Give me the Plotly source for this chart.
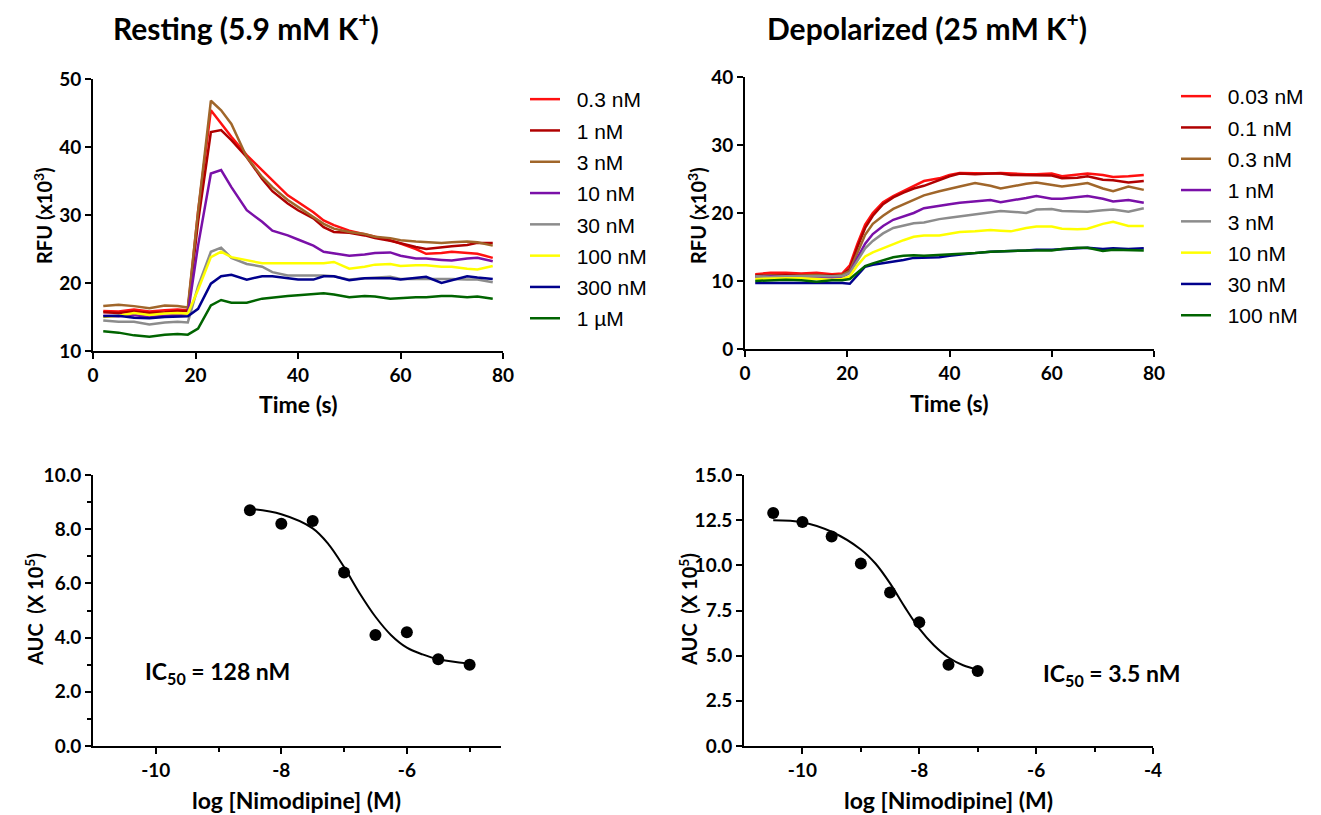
import plotly.graph_objs as go

# ---- top panels: fluorescence traces (RFU x10^3) ----
t_rest = [2, 5, 8, 11, 14, 16.5, 18.5, 20.5, 23, 25, 27, 30, 33, 35, 38, 40, 43, 45, 47,
          50, 53, 55, 58, 60, 63, 65, 68, 70, 73, 75, 78]
rest_names = ['0.3 nM', '1 nM', '3 nM', '10 nM', '30 nM', '100 nM', '300 nM', '1 µM']
rest_vals = [
    [15.9, 15.8, 16.1, 15.8, 16.0, 16.1, 16.0, 30.5, 45.4, 43.4, 41.5, 38.8, 36.6, 35.1, 32.9, 31.9,
     30.4, 29.2, 28.5, 27.7, 27.2, 26.8, 26.3, 25.8, 25.0, 24.3, 24.4, 24.6, 24.4, 24.3, 23.7],
    [15.7, 15.6, 15.8, 15.6, 15.7, 15.9, 15.9, 29.0, 42.2, 42.5, 41.0, 38.5, 35.3, 33.5, 31.7, 30.7,
     29.5, 28.2, 27.5, 27.4, 27.0, 26.6, 26.2, 25.8, 25.3, 25.0, 25.3, 25.4, 25.6, 25.9, 25.9],
    [16.6, 16.8, 16.6, 16.3, 16.7, 16.6, 16.4, 30.5, 46.8, 45.4, 43.4, 38.5, 35.6, 34.1, 32.2, 31.2,
     29.7, 28.7, 28.0, 27.5, 27.2, 26.8, 26.6, 26.3, 26.1, 26.0, 25.9, 26.0, 26.1, 26.0, 25.5],
    [15.2, 15.1, 15.3, 15.0, 15.2, 15.3, 15.4, 25.5, 36.1, 36.6, 34.1, 30.7, 29.0, 27.7, 27.0, 26.4,
     25.5, 24.6, 24.4, 24.0, 24.2, 24.4, 24.5, 24.0, 23.6, 23.6, 23.4, 23.3, 23.6, 23.7, 23.2],
    [14.5, 14.3, 14.3, 13.9, 14.2, 14.3, 14.2, 19.5, 24.6, 25.2, 23.7, 22.8, 22.4, 21.6, 21.1, 21.1,
     21.2, 21.1, 21.0, 20.5, 20.7, 20.8, 20.9, 20.6, 20.6, 20.6, 20.7, 20.6, 20.5, 20.5, 20.1],
    [15.0, 15.2, 15.6, 15.3, 15.5, 15.6, 15.5, 19.0, 23.8, 24.6, 23.8, 23.3, 22.9, 22.9, 22.9, 22.8,
     22.8, 22.9, 23.1, 22.1, 22.4, 22.7, 22.8, 22.5, 22.6, 22.6, 22.4, 22.4, 22.1, 22.0, 22.5],
    [15.1, 15.2, 14.9, 14.8, 15.0, 15.1, 15.1, 16.2, 19.9, 21.0, 21.2, 20.5, 21.0, 21.0, 20.7, 20.5,
     20.5, 21.0, 21.0, 20.4, 20.7, 20.7, 20.7, 20.5, 20.7, 20.9, 20.0, 20.4, 21.0, 20.8, 20.6],
    [12.9, 12.7, 12.3, 12.1, 12.4, 12.5, 12.4, 13.3, 16.7, 17.5, 17.1, 17.1, 17.7, 17.9, 18.1, 18.2,
     18.4, 18.5, 18.3, 17.9, 18.1, 18.0, 17.7, 17.8, 17.9, 17.9, 18.1, 18.1, 17.9, 18.0, 17.7],
]

t_dep = [2, 5, 8, 11, 14, 17, 19, 20.5, 22, 23.5, 25, 27, 29, 31, 33, 35, 38, 40, 42, 45, 48,
         50, 52, 55, 57, 60, 62, 65, 67, 70, 72, 75, 78]
dep_names = ['0.03 nM', '0.1 nM', '0.3 nM', '1 nM', '3 nM', '10 nM', '30 nM', '100 nM']
dep_vals = [
    [11.0, 11.2, 11.2, 11.1, 11.2, 11.0, 11.1, 12.3, 15.5, 18.3, 20.0, 21.6, 22.5, 23.2, 23.9, 24.7,
     25.1, 25.6, 25.9, 25.8, 25.8, 25.9, 25.8, 25.7, 25.7, 25.8, 25.4, 25.7, 25.8, 25.6, 25.3, 25.4, 25.6],
    [10.8, 10.9, 10.9, 10.8, 10.9, 10.8, 10.9, 11.8, 15.0, 17.8, 19.6, 21.3, 22.3, 23.0, 23.6, 24.0,
     24.9, 25.4, 25.8, 25.7, 25.8, 25.8, 25.6, 25.6, 25.6, 25.5, 25.1, 25.2, 25.4, 24.9, 24.8, 24.5, 24.7],
    [10.7, 10.8, 10.7, 10.8, 10.9, 10.7, 10.9, 11.5, 14.2, 16.8, 18.4, 19.6, 20.6, 21.3, 21.9, 22.6,
     23.2, 23.5, 23.9, 24.4, 24.0, 23.6, 23.9, 24.3, 24.5, 24.2, 23.9, 24.2, 24.4, 23.6, 23.2, 23.9, 23.4],
    [10.6, 10.7, 10.6, 10.7, 10.6, 10.5, 10.6, 11.2, 13.4, 15.5, 16.9, 18.1, 19.0, 19.5, 20.0, 20.7,
     21.1, 21.3, 21.5, 21.7, 21.9, 21.6, 21.8, 22.2, 22.5, 22.1, 22.1, 22.3, 22.5, 22.1, 21.7, 21.9, 21.5],
    [10.7, 10.6, 10.7, 10.7, 10.6, 10.6, 10.7, 11.2, 13.0, 14.8, 15.9, 17.0, 17.8, 18.2, 18.5, 18.6,
     19.1, 19.3, 19.5, 19.8, 20.2, 20.3, 20.2, 20.0, 20.5, 20.6, 20.3, 20.2, 20.2, 20.4, 20.5, 20.2, 20.7],
    [10.3, 10.4, 10.4, 10.4, 10.3, 10.2, 10.3, 10.7, 12.3, 13.6, 14.2, 14.8, 15.5, 16.0, 16.5, 16.7,
     16.7, 17.0, 17.2, 17.3, 17.5, 17.4, 17.3, 17.8, 18.0, 18.0, 17.7, 17.6, 17.7, 18.4, 18.7, 18.1, 18.1],
    [9.7, 9.7, 9.8, 9.8, 9.7, 9.8, 9.7, 9.6, 10.9, 12.1, 12.4, 12.6, 12.8, 13.1, 13.4, 13.4,
     13.5, 13.7, 13.9, 14.1, 14.3, 14.4, 14.4, 14.5, 14.6, 14.6, 14.7, 14.8, 14.9, 14.7, 14.8, 14.7, 14.8],
    [10.0, 10.1, 10.2, 10.1, 9.9, 10.1, 10.1, 10.3, 11.3, 12.2, 12.6, 13.1, 13.5, 13.7, 13.8, 13.7,
     13.8, 13.9, 14.0, 14.1, 14.3, 14.3, 14.4, 14.5, 14.5, 14.5, 14.7, 14.9, 14.9, 14.4, 14.6, 14.6, 14.5],
]

colores = ['#FF1010', '#B00000', '#A0662A', '#7A10A8', '#8C8C8C', '#FFFF00', '#00008C', '#006400']

# ---- bottom panels: AUC (x10^5) vs log dose ----
log_rest = [-8.5, -8, -7.5, -7, -6.5, -6, -5.5, -5]
auc_rest = [8.7, 8.2, 8.3, 6.4, 4.1, 4.2, 3.2, 3.0]
fit_rest_x = [-8.5, -8.0, -7.5, -7.25, -7.0, -6.75, -6.5, -6.25, -6.0, -5.75, -5.5, -5.0]
fit_rest_y = [8.75, 8.55, 8.03, 7.45, 6.6, 5.63, 4.77, 4.09, 3.63, 3.38, 3.2, 3.04]

log_dep = [-10.5, -10, -9.5, -9, -8.5, -8, -7.5, -7]
auc_dep = [12.9, 12.4, 11.6, 10.1, 8.5, 6.85, 4.5, 4.15]
fit_dep_x = [-10.5, -10.0, -9.5, -9.0, -8.75, -8.5, -8.25, -8.0, -7.75, -7.5, -7.25, -7.0]
fit_dep_y = [12.5, 12.39, 11.86, 10.88, 10.1, 9.0, 7.7, 6.5, 5.58, 4.9, 4.47, 4.23]

# the page puts the figure 8px in from the corner; work in screen pixels
OFF = 8
W, H = 1321 - OFF, 815 - OFF
def fx(px):
    return (px - OFF) / W
def fy(py):
    return 1 - (py - OFF) / H

fnt = 'Lato'
fig = go.Figure()

for i in range(8):
    fig.add_trace(go.Scatter(x=t_rest, y=rest_vals[i], name='\u00a0\u00a0' + rest_names[i], mode='lines',
                             line=dict(color=colores[i], width=2.5), xaxis='x', yaxis='y',
                             legend='legend', legendgroup='r' + str(i)))
for i in range(8):
    fig.add_trace(go.Scatter(x=t_dep, y=dep_vals[i], name='\u00a0\u00a0' + dep_names[i], mode='lines',
                             line=dict(color=colores[i], width=2.5), xaxis='x2', yaxis='y2',
                             legend='legend2', legendgroup='d' + str(i)))

fig.add_trace(go.Scatter(x=fit_rest_x, y=fit_rest_y, mode='lines', line=dict(color='black', width=2, shape='spline'),
                         xaxis='x3', yaxis='y3', showlegend=False))
fig.add_trace(go.Scatter(x=log_rest, y=auc_rest, mode='markers', marker=dict(color='black', size=12),
                         xaxis='x3', yaxis='y3', showlegend=False))
fig.add_trace(go.Scatter(x=fit_dep_x, y=fit_dep_y, mode='lines', line=dict(color='black', width=2, shape='spline'),
                         xaxis='x4', yaxis='y4', showlegend=False))
fig.add_trace(go.Scatter(x=log_dep, y=auc_dep, mode='markers', marker=dict(color='black', size=12),
                         xaxis='x4', yaxis='y4', showlegend=False))

eje = dict(showline=True, linecolor='black', linewidth=2, ticks='outside', ticklen=6, tickwidth=2,
           tickcolor='black', showgrid=False, zeroline=False, automargin=False,
           tickfont=dict(family=fnt, size=19, color='black', weight='bold'))
minor = dict(ticks='outside', ticklen=4, tickwidth=2, tickcolor='black', showgrid=False)

fig.update_layout(
    width=W, height=H, margin=dict(l=0, r=0, t=0, b=0, autoexpand=False),
    plot_bgcolor='white', paper_bgcolor='white',
    xaxis=dict(eje, domain=[fx(93), fx(503)], range=[0, 80], dtick=20, anchor='y'),
    yaxis=dict(eje, domain=[fy(351), fy(79)], range=[10, 50], dtick=10, anchor='x'),
    xaxis2=dict(eje, domain=[fx(745), fx(1154)], range=[0, 80], dtick=20, anchor='y2'),
    yaxis2=dict(eje, domain=[fy(349), fy(77)], range=[0, 40], dtick=10, anchor='x2'),
    xaxis3=dict(eje, domain=[fx(93), fx(501)], range=[-11, -4.5], tickvals=[-10, -8, -6],
                ticktext=['-10', '-8', '-6'], anchor='y3', minor=dict(minor, tickvals=[-9, -7, -5])),
    yaxis3=dict(eje, domain=[fy(746), fy(475)], range=[0, 10], dtick=2, tickformat='.1f', anchor='x3',
                minor=dict(minor, dtick=1)),
    xaxis4=dict(eje, domain=[fx(744), fx(1153)], range=[-11, -4], tickvals=[-10, -8, -6, -4],
                ticktext=['-10', '-8', '-6', '-4'], anchor='y4', minor=dict(minor, tickvals=[-9, -7, -5])),
    yaxis4=dict(eje, domain=[fy(746), fy(475)], range=[0, 15], dtick=2.5, tickformat='.1f', anchor='x4'),
    legend=dict(x=fx(525), y=fy(79), xanchor='left', yanchor='top', traceorder='grouped',
                tracegroupgap=1, font=dict(family='Liberation Sans', size=21, color='black'),
                bgcolor='rgba(0,0,0,0)', itemwidth=30),
    legend2=dict(x=fx(1176), y=fy(76), xanchor='left', yanchor='top', traceorder='grouped',
                 tracegroupgap=1, font=dict(family='Liberation Sans', size=21, color='black'),
                 bgcolor='rgba(0,0,0,0)', itemwidth=30),
)

def nota(texto, px, py, size, angle=0):
    fig.add_annotation(text=texto, x=fx(px), y=fy(py), xref='paper', yref='paper',
                       showarrow=False, textangle=angle, xanchor='center', yanchor='middle',
                       font=dict(family=fnt, size=size, color='black', weight='bold'))

nota('Resting (5.9 mM K<sup>+</sup>)', 246, 26, 30)
nota('Depolarized (25 mM K<sup>+</sup>)', 927, 26, 30)
nota('Time (s)', 298, 404, 23)
nota('Time (s)', 949, 403, 23)
nota('RFU (x10<sup>3</sup>)', 43, 216, 20, -90)
nota('RFU (x10<sup>3</sup>)', 697, 216, 20, -90)
nota('AUC  (X 10<sup>5</sup>)', 34, 610, 20, -90)
nota('AUC  (X 10<sup>5</sup>)', 688, 610, 20, -90)
nota('log [Nimodipine] (M)', 296, 800, 23)
nota('log [Nimodipine] (M)', 948, 800, 23)
nota('IC<sub>50</sub> = 128 nM', 217, 672, 23)
nota('IC<sub>50</sub> = 3.5 nM', 1111, 674, 23)

fig.write_html("out.html")
